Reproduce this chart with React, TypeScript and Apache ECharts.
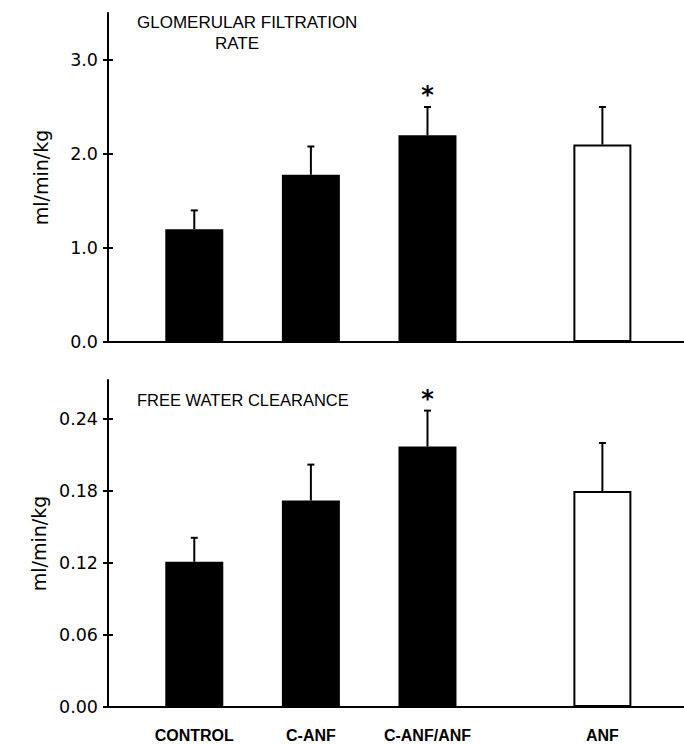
import React, { useEffect, useRef } from "react";
import * as echarts from "echarts";

const categories = ["CONTROL", "C-ANF", "C-ANF/ANF", "ANF"];
const categoryPositions = [1, 2, 3, 4.5];
const gfrMeans = [1.2, 1.78, 2.2, 2.1];
const gfrErrors = [0.2, 0.3, 0.3, 0.4];
const fwcMeans = [0.121, 0.172, 0.217, 0.18];
const fwcErrors = [0.02, 0.03, 0.03, 0.04];
const significant = [false, false, true, false];
const barFills = ["#000000", "#000000", "#000000", "#ffffff"];
const gfrTicks = [0, 1, 2, 3];
const fwcTicks = [0, 0.06, 0.12, 0.18, 0.24];

const TICK_FONT = "DejaVu Sans";
const TEXT_FONT = "Liberation Sans";

function errorRender(params: any, api: any) {
  const x = api.value(0);
  const y = api.value(1);
  const e = api.value(2);
  const sig = api.value(3);
  const base = api.coord([x, y]);
  const top = api.coord([x, y + e]);
  const children: any[] = [
    {
      type: "line",
      shape: { x1: base[0], y1: base[1], x2: top[0], y2: top[1] },
      style: { stroke: "#000", lineWidth: 2 },
    },
    {
      type: "line",
      shape: { x1: top[0] - 3.5, y1: top[1], x2: top[0] + 3.5, y2: top[1] },
      style: { stroke: "#000", lineWidth: 2 },
    },
  ];
  if (sig) {
    children.push({
      type: "text",
      x: top[0],
      y: top[1] - 12,
      style: {
        text: "*",
        fill: "#000",
        font: `bold 24px "${TICK_FONT}"`,
        align: "center",
        verticalAlign: "middle",
      },
    });
  }
  return { type: "group", children };
}

function makeY(gridIndex: number, max: number, ticks: number[], digits: number, withName: boolean) {
  return [
    {
      gridIndex,
      type: "value",
      position: "left",
      min: 0,
      max,
      axisLine: { show: true, lineStyle: { color: "#000", width: 2 } },
      axisTick: { show: true, length: 5, customValues: ticks, lineStyle: { color: "#000", width: 2 } },
      axisLabel: {
        show: true,
        customValues: ticks,
        formatter: (v: number) => v.toFixed(digits),
        margin: 10,
        color: "#000",
        fontFamily: TICK_FONT,
        fontSize: 17.5,
      },
      splitLine: { show: false },
      name: withName ? "ml/min/kg" : "",
      nameLocation: "middle",
      nameGap: 58,
      nameTextStyle: { color: "#000", fontFamily: TICK_FONT, fontSize: 19 },
    },
    {
      gridIndex,
      type: "value",
      position: "left",
      min: 0,
      max,
      axisLine: { show: false },
      axisTick: { show: true, inside: true, length: 5, customValues: ticks, lineStyle: { color: "#000", width: 2 } },
      axisLabel: { show: false },
      splitLine: { show: false },
    },
  ];
}

function makeX(gridIndex: number, showLabels: boolean) {
  return {
    gridIndex,
    type: "value",
    min: 0.26,
    max: 5.2,
    axisLine: { show: true, onZero: false, lineStyle: { color: "#000", width: 2 } },
    axisTick: { show: false },
    splitLine: { show: false },
    axisLabel: showLabels
      ? {
          show: true,
          customValues: categoryPositions,
          formatter: (v: number) => {
            const i = categoryPositions.findIndex((p) => Math.abs(p - v) < 1e-6);
            return i >= 0 ? categories[i] : "";
          },
          margin: 20,
          color: "#000",
          fontFamily: TEXT_FONT,
          fontWeight: "bold",
          fontSize: 16,
        }
      : { show: false },
  };
}

function barData(means: number[]) {
  return categoryPositions.map((p, i) => ({
    value: [p, means[i]],
    itemStyle: { color: barFills[i], borderColor: "#000", borderWidth: 2 },
  }));
}

function errData(means: number[], errs: number[]) {
  return categoryPositions.map((p, i) => [p, means[i], errs[i], significant[i] ? 1 : 0]);
}

export default function App() {
  const ref = useRef<HTMLDivElement>(null);
  useEffect(() => {
    if (!ref.current) return;
    const chart = echarts.init(ref.current, null, { renderer: "svg" });
    const titleStyle = { color: "#000", fontFamily: TEXT_FONT, fontSize: 17, fontWeight: "normal" };
    chart.setOption({
      animation: false,
      backgroundColor: "#ffffff",
      title: [
        { text: "GLOMERULAR FILTRATION", left: 137, top: 14, padding: 0, textStyle: titleStyle },
        { text: "RATE", left: 215, top: 35, padding: 0, textStyle: titleStyle },
        { text: "FREE WATER CLEARANCE", left: 137, top: 391, padding: 0, textStyle: { ...titleStyle, fontSize: 16.5 } },
      ],
      grid: [
        { left: 108, top: 13, width: 576, height: 329 },
        { left: 108, top: 380, width: 576, height: 327 },
      ],
      xAxis: [makeX(0, false), makeX(1, true)],
      yAxis: [...makeY(0, 3.5, gfrTicks, 1, true), ...makeY(1, 0.2725, fwcTicks, 2, true)],
      series: [
        { type: "bar", xAxisIndex: 0, yAxisIndex: 0, barWidth: 58, data: barData(gfrMeans) },
        {
          type: "custom",
          xAxisIndex: 0,
          yAxisIndex: 0,
          renderItem: errorRender,
          data: errData(gfrMeans, gfrErrors),
          z: 5,
        },
        { type: "bar", xAxisIndex: 1, yAxisIndex: 2, barWidth: 58, data: barData(fwcMeans) },
        {
          type: "custom",
          xAxisIndex: 1,
          yAxisIndex: 2,
          renderItem: errorRender,
          data: errData(fwcMeans, fwcErrors),
          z: 5,
        },
      ],
    });
    return () => chart.dispose();
  }, []);
  return (
    <div
      ref={ref}
      style={{ position: "fixed", left: 0, top: 0, width: 684, height: 745, background: "#fff" }}
    />
  );
}
